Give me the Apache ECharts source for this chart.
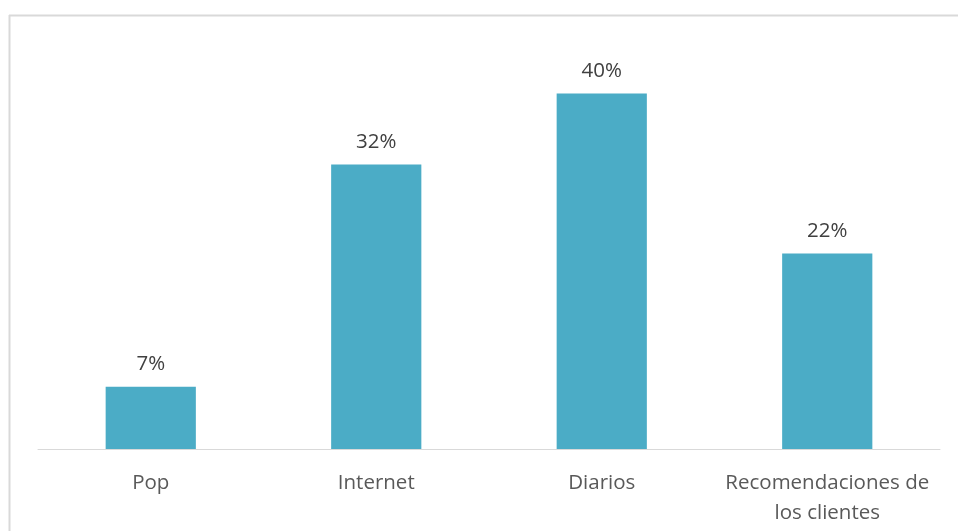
<!DOCTYPE html>
<html>
<head>
<meta charset="utf-8">
<script src="https://cdn.jsdelivr.net/npm/echarts@6/dist/echarts.min.js"></script>
<style>
  html, body { margin: 0; padding: 0; background: #fff; }
  #chart { width: 959px; height: 531px; }
</style>
</head>
<body>
<div id="chart"></div>
<script>
// Medio por el que conocieron la empresa (porcentaje)
const categories = ['Pop', 'Internet', 'Diarios', 'Recomendaciones de\nlos clientes'];
const shares = [0.07, 0.32, 0.40, 0.22];

const chart = echarts.init(document.getElementById('chart'));
const font = '"Open Sans", "Noto Sans", sans-serif';

chart.setOption({
  animation: false,
  backgroundColor: '#ffffff',
  grid: { left: 38, right: 19, top: 49, bottom: 82 },
  xAxis: {
    type: 'category',
    data: categories,
    axisLine: { show: true, lineStyle: { color: '#d9d9d9', width: 1 } },
    axisTick: { show: false },
    axisLabel: {
      color: '#595959',
      fontFamily: font,
      fontSize: 20.5,
      lineHeight: 30,
      margin: 19,
      interval: 0
    }
  },
  yAxis: {
    type: 'value',
    min: 0,
    max: 0.45,
    show: false,
    splitLine: { show: false }
  },
  series: [{
    type: 'bar',
    data: shares,
    barCategoryGap: '60%',
    itemStyle: { color: '#4bacc6' },
    label: {
      show: true,
      position: 'top',
      distance: 12,
      color: '#404040',
      fontFamily: font,
      fontSize: 20.5,
      formatter: p => Math.round(p.value * 100) + '%'
    }
  }],
  graphic: [
    { type: 'line', shape: { x1: 9, y1: 15.5, x2: 958, y2: 15.5 }, style: { stroke: '#d9d9d9', lineWidth: 2 } },
    { type: 'line', shape: { x1: 9.5, y1: 15, x2: 9.5, y2: 531 }, style: { stroke: '#d9d9d9', lineWidth: 2 } }
  ]
});
</script>
</body>
</html>
